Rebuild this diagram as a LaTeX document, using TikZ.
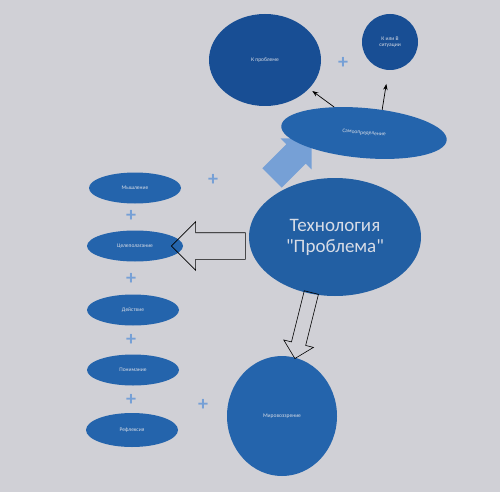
\documentclass[tikz,border=0pt]{standalone}
\usepackage{fontspec}
\setmainfont{Carlito}
\newfontfamily\techfont{Carlito}
\usetikzlibrary{shapes.geometric,shapes.arrows,arrows.meta}

\definecolor{bgpaper}{RGB}{208,208,214}
\definecolor{darkblob}{RGB}{24,78,148}
\definecolor{midblob}{RGB}{36,100,172}
\definecolor{lightblob}{RGB}{118,160,214}
\definecolor{labeltext}{RGB}{215,220,230}

\tikzset{
  blob/.style={ellipse, fill=midblob, text=labeltext, inner sep=0pt, font=\fontsize{5.5}{6}\selectfont, align=center},
  smallblob/.style={blob, minimum width=92, minimum height=31},
  plussign/.style={text=lightblob, font=\fontsize{20}{20}\selectfont\bfseries, inner sep=0pt},
  hollowarrow/.style={single arrow, draw=black, line width=0.6pt, fill=none, inner sep=0pt}
}

\begin{document}
\begin{tikzpicture}[x=1pt,y=-1pt]

  % background
  \fill[bgpaper] (0,0) rectangle (500,492);
  \useasboundingbox (0,0) rectangle (500,492);

  % light blue arrow behind the ellipses
  \node[single arrow, fill=lightblob, minimum height=56, minimum width=44,
        single arrow head extend=8, inner sep=0pt, text height=26, rotate=45] (uparrow) at (287,163) {};

  % top ellipses
  \node[blob, fill=darkblob, minimum width=112, minimum height=92] (kprob) at (265,60) {К проблеме};
  \node[blob, fill=darkblob, circle, minimum size=56] (ksit) at (390,42) {К или В\\ситуации};
  \node[plussign] (plus1) at (343,63) {+};
  \node[blob, minimum width=166, minimum height=50, rotate=-5] (samo) at (364,133) {Самоопределение};

  % arrows to the top ellipses
  \draw[-{Stealth[length=6pt]}, line width=0.7pt, shorten >=4pt] (samo.144) -- (kprob.-33);
  \draw[-{Stealth[length=6pt]}, line width=0.7pt, shorten >=14pt] (samo.57) -- (ksit.267);

  % central ellipse
  \node[blob, fill=midblob!95!black, minimum width=172, minimum height=118,
        font=\techfont\fontsize{19}{21}\selectfont] (tech) at (335,237) {Технология\\"Проблема"};

  % left column
  \node[smallblob] (myshl) at (135,188) {Мышление};
  \node[smallblob, minimum width=96] (tsel) at (135,246) {Целеполагание};
  \node[smallblob] (deistv) at (133,310) {Действие};
  \node[smallblob] (ponim) at (133,370) {Понимание};
  \node[smallblob, minimum height=34] (refl) at (132,430) {Рефлексия};

  \node[plussign] (plus2) at (131,216) {+};
  \node[plussign] (plus3) at (131,279) {+};
  \node[plussign] (plus4) at (131,340) {+};
  \node[plussign] (plus5) at (131,400) {+};
  \node[plussign] (plus6) at (213,180) {+};
  \node[plussign] (plus7) at (203,405) {+};

  % bottom ellipse
  \node[blob, minimum width=110, minimum height=120] (mirov) at (282,416) {Мировоззрение};

  % hollow arrows
  \node[hollowarrow, minimum height=74, minimum width=48, single arrow head extend=11,
        text height=26, rotate=180] (leftarrow) at (215,246) {};
  \node[hollowarrow, minimum height=68, minimum width=30, single arrow head extend=8,
        text height=14, rotate=256] (downarrow) at (304,322) {};

\end{tikzpicture}
\end{document}
